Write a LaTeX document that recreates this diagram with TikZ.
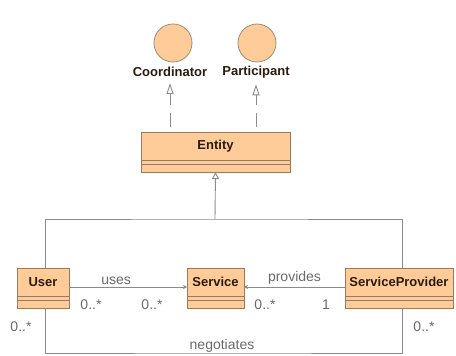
\documentclass[tikz,border=0pt]{standalone}
\usepackage{fontspec}
\setmainfont{Liberation Sans}
\usetikzlibrary{arrows.meta,calc}

\definecolor{peach}{HTML}{FFCC99}
\definecolor{classedge}{HTML}{9C7A58}
\definecolor{ringedge}{HTML}{A08A70}
\definecolor{wire}{HTML}{8A8A8A}
\definecolor{ink}{HTML}{2B1B0E}
\definecolor{note}{HTML}{6A6A6A}

\tikzset{
  compartment/.style={draw=classedge, fill=peach, line width=0.9pt,
    inner sep=0pt, outer sep=0pt},
  namebox/.style={compartment, minimum height=28pt, anchor=north west,
    font=\fontsize{13}{15}\selectfont\bfseries, text=ink},
  attrbox/.style={compartment, minimum height=4pt, anchor=north},
  opsbox/.style={compartment, minimum height=8pt, anchor=north},
  iface/.style={circle, draw=ringedge, fill=peach, line width=0.8pt,
    minimum size=38pt, inner sep=0pt},
  ifacelabel/.style={font=\fontsize{13}{15}\selectfont\bfseries, text=ink,
    inner sep=0pt},
  realize/.style={draw=wire, line width=0.9pt,
    dash pattern=on 14pt off 8pt, dash phase=17pt, shorten >=6pt,
    -{Triangle[open, length=11pt, width=7pt]}},
  genline/.style={draw=wire, line width=0.9pt},
  genarrow/.style={genline, -{Triangle[open, length=7pt, width=7pt]}},
  assoc/.style={draw=wire, line width=0.9pt},
  navassoc/.style={assoc, -{Stealth[length=4pt, width=4pt]}},
  rolename/.style={font=\fontsize{14}{16}\selectfont, text=note, inner sep=1pt},
  mult/.style={font=\fontsize{14}{16}\selectfont, text=note, inner sep=0pt},
}

\begin{document}
\begin{tikzpicture}[x=1pt, y=-1pt]
  \useasboundingbox (0,0) rectangle (456,356);

  % interfaces
  \node[iface] (coord) at (173,43) {};
  \node[iface] (part) at (257,43) {};
  \node[ifacelabel] (coordlbl) at (170,72) {Coordinator};
  \node[ifacelabel] (partlbl) at (256,72) {Participant};

  % Entity class
  \node[namebox, minimum width=149pt] (entity) at (141,132) {Entity};
  \node[attrbox, minimum width=149pt] (entityA) at (entity.south) {};
  \node[opsbox, minimum width=149pt] (entityO) at (entityA.south) {};

  % User class
  \node[namebox, minimum width=52pt] (user) at (17,268) {User};
  \node[attrbox, minimum width=52pt] (userA) at (user.south) {};
  \node[opsbox, minimum width=52pt] (userO) at (userA.south) {};

  % Service class
  \node[namebox, minimum width=57pt] (service) at (187,268) {Service};
  \node[attrbox, minimum width=57pt] (serviceA) at (service.south) {};
  \node[opsbox, minimum width=57pt] (serviceO) at (serviceA.south) {};

  % ServiceProvider class
  \node[namebox, minimum width=108pt] (sp) at (345,268) {ServiceProvider};
  \node[attrbox, minimum width=108pt] (spA) at (sp.south) {};
  \node[opsbox, minimum width=108pt] (spO) at (spA.south) {};

  % realizations
  \draw[realize] (entity.north -| coordlbl) -- (coordlbl.south);
  \draw[realize] (entity.north -| partlbl) -- (partlbl.south);

  % generalization tree
  \coordinate (hub) at (215,219);
  \draw[genline] ([xshift=2pt]user.north) |- (hub) -| ([xshift=3pt]sp.north);
  \draw[genarrow] (hub) -- (entityO.south);

  % associations
  \draw[navassoc] ([yshift=-5pt]user.east) --
    node[rolename, pos=0.4, above=1pt] {uses} ([yshift=-5pt]service.west);
  \draw[navassoc] ([yshift=-5pt]sp.west) --
    node[rolename, pos=0.5, above=1pt] {provides} ([yshift=-5pt]service.east);

  \coordinate (negbend) at (222,353);
  \draw[assoc] ([xshift=2pt]userO.south) |- (negbend) -| ([xshift=3pt]spO.south);
  \node[rolename, anchor=south] (neglbl) at (222,354) {negotiates};

  % multiplicities
  \node[mult] (m1) at (91,305) {0..*};
  \node[mult] (m2) at (152,305) {0..*};
  \node[mult] (m3) at (265,305) {0..*};
  \node[mult] (m4) at (326,305) {1};
  \node[mult] (m5) at (21,327) {0..*};
  \node[mult] (m6) at (424,327) {0..*};
\end{tikzpicture}
\end{document}
